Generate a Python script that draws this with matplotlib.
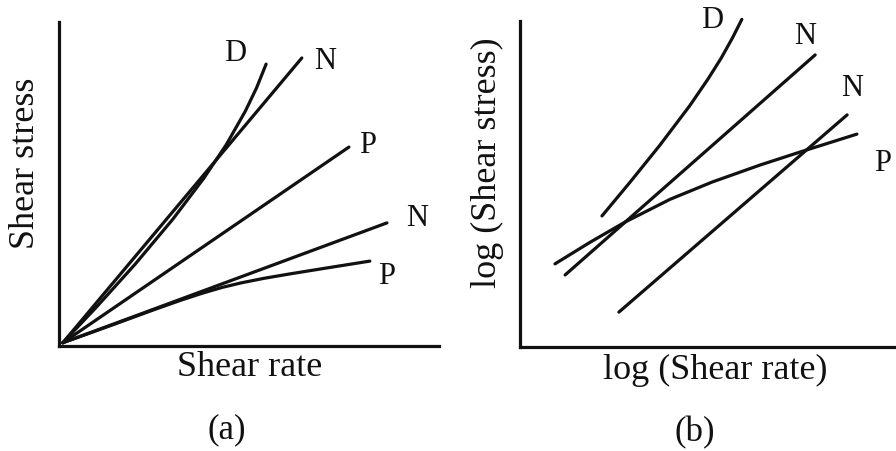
"""
Flow curves: shear stress vs shear rate, linear (a) and log-log (b)
"""

import matplotlib
matplotlib.use('Agg')
import matplotlib.pyplot as plt

#***************** Data ***************#

# panel (a) - linear axes, arbitrary 0..10 units
a_D_x = [0.1, 1.0, 2.0, 3.0, 3.8, 4.4, 4.9, 5.2, 5.45]
a_D_y = [0.1, 1.22, 2.52, 3.92, 5.16, 6.21, 7.24, 7.97, 8.70]
a_N1_x = [0.1, 6.39]
a_N1_y = [0.1, 8.89]
a_P1_x = [0.1, 7.63]
a_P1_y = [0.1, 6.14]
a_N2_x = [0.1, 8.63]
a_N2_y = [0.1, 3.80]
a_P2_x = [0.1, 1.5, 2.5, 3.2, 3.8, 4.3, 4.8, 5.4, 6.1, 7.0, 8.18]
a_P2_y = [0.1, 0.69, 1.12, 1.41, 1.64, 1.81, 1.95, 2.09, 2.23, 2.40, 2.62]

a_labels = ['D', 'N', 'P', 'N', 'P']
a_lab_x = [4.63, 7.00, 8.13, 9.42, 8.63]
a_lab_y = [9.04, 8.77, 6.20, 3.95, 2.13]

# panel (b) - log-log axes, arbitrary 0..10 units
b_D_x = [2.18, 2.93, 3.72, 4.52, 5.00, 5.35, 5.65, 5.90]
b_D_y = [4.02, 5.06, 6.19, 7.41, 8.22, 8.86, 9.48, 10.05]
b_N1_x = [1.20, 7.85]
b_N1_y = [2.21, 8.96]
b_N2_x = [2.63, 8.70]
b_N2_y = [1.07, 7.12]
b_P_x = [0.93, 1.86, 2.79, 3.99, 5.11, 6.38, 7.50, 8.96]
b_P_y = [2.55, 3.21, 3.83, 4.53, 5.06, 5.58, 6.00, 6.53]

b_labels = ['D', 'N', 'N', 'P']
b_lab_x = [5.11, 7.58, 8.83, 9.65]
b_lab_y = [10.03, 9.51, 7.94, 5.64]

#*******************************************#

W, H = 896, 451
ink = '#111111'
lw = 2.3
serif = ['Liberation Serif', 'DejaVu Serif']

fig = plt.figure(figsize=(W/100, H/100), dpi=100)

def make_axes(left, right, top, bottom):
	ax = fig.add_axes([left/W, 1 - bottom/H, (right-left)/W, (bottom-top)/H])
	ax.set_xlim(0, 10)
	ax.set_ylim(0, 10)
	for s in ['top', 'right']:
		ax.spines[s].set_visible(False)
	for s in ['left', 'bottom']:
		ax.spines[s].set_linewidth(lw)
		ax.spines[s].set_color(ink)
	ax.set_xticks([])
	ax.set_yticks([])
	ax.patch.set_alpha(0)
	return ax

def curve(ax, x, y):
	ax.plot(x, y, color=ink, lw=lw, solid_capstyle='round',
		solid_joinstyle='round', clip_on=False)

# Panel (a)
ax1 = make_axes(59, 439, 22, 346)
curve(ax1, a_D_x, a_D_y)
curve(ax1, a_N1_x, a_N1_y)
curve(ax1, a_P1_x, a_P1_y)
curve(ax1, a_N2_x, a_N2_y)
curve(ax1, a_P2_x, a_P2_y)
for t, x, y in zip(a_labels, a_lab_x, a_lab_y):
	ax1.text(x, y, t, fontsize=22, family=serif, color=ink, ha='center', va='center')

# Panel (b)
ax2 = make_axes(520, 896, 21, 347)
curve(ax2, b_D_x, b_D_y)
curve(ax2, b_N1_x, b_N1_y)
curve(ax2, b_N2_x, b_N2_y)
curve(ax2, b_P_x, b_P_y)
for t, x, y in zip(b_labels, b_lab_x, b_lab_y):
	ax2.text(x, y, t, fontsize=22, family=serif, color=ink, ha='center', va='center')

# axis titles and panel letters
def ftext(px, py, s, rot=0, size=26):
	fig.text(px/W, 1 - py/H, s, fontsize=size, family=serif, color=ink,
		ha='center', va='center', rotation=rot)

ftext(250, 368, 'Shear rate')
ftext(25, 163, 'Shear stress', 90)
ftext(227, 430, '(a)', size=25)
ftext(715, 370, 'log (Shear rate)')
ftext(487, 163, 'log (Shear stress)', 90)
ftext(695, 433, '(b)', size=25)

fig.savefig('out.png', dpi=100, facecolor='white')
